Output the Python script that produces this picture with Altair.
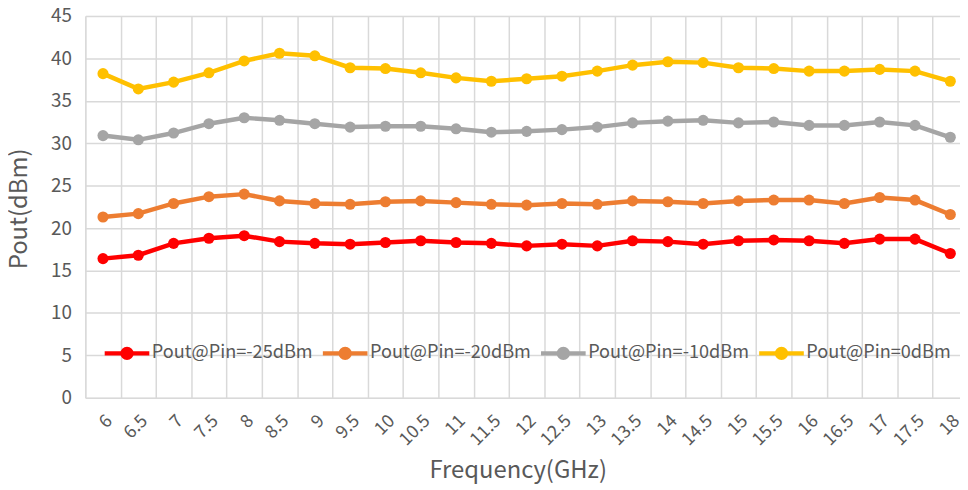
import altair as alt
import pandas as pd

freqs = ["6", "6.5", "7", "7.5", "8", "8.5", "9", "9.5", "10", "10.5", "11", "11.5",
         "12", "12.5", "13", "13.5", "14", "14.5", "15", "15.5", "16", "16.5", "17", "17.5", "18"]
series_names = ["Pout@Pin=-25dBm", "Pout@Pin=-20dBm", "Pout@Pin=-10dBm", "Pout@Pin=0dBm"]
series_colors = ["#FF0000", "#ED7D31", "#A5A5A5", "#FFC000"]
pin_m25 = [16.4, 16.8, 18.2, 18.8, 19.1, 18.4, 18.2, 18.1, 18.3, 18.5, 18.3, 18.2, 17.9,
           18.1, 17.9, 18.5, 18.4, 18.1, 18.5, 18.6, 18.5, 18.2, 18.7, 18.7, 17.0]
pin_m20 = [21.3, 21.7, 22.9, 23.7, 24.0, 23.2, 22.9, 22.8, 23.1, 23.2, 23.0, 22.8, 22.7,
           22.9, 22.8, 23.2, 23.1, 22.9, 23.2, 23.3, 23.3, 22.9, 23.6, 23.3, 21.6]
pin_m10 = [30.9, 30.4, 31.2, 32.3, 33.0, 32.7, 32.3, 31.9, 32.0, 32.0, 31.7, 31.3, 31.4,
           31.6, 31.9, 32.4, 32.6, 32.7, 32.4, 32.5, 32.1, 32.1, 32.5, 32.1, 30.7]
pin_0 = [38.2, 36.4, 37.2, 38.3, 39.7, 40.6, 40.3, 38.9, 38.8, 38.3, 37.7, 37.3, 37.6,
         37.9, 38.5, 39.2, 39.6, 39.5, 38.9, 38.8, 38.5, 38.5, 38.7, 38.5, 37.3]
y_ticks = [0, 5, 10, 15, 20, 25, 30, 35, 40, 45]

rows = []
for name, vals in zip(series_names, [pin_m25, pin_m20, pin_m10, pin_0]):
    for f, v in zip(freqs, vals):
        rows.append({"freq": f, "pout": v, "series": name})
df = pd.DataFrame(rows)

FONT = "Noto Sans CJK SC"
TXT = "#595959"
GRID = "#D9D9D9"

legend_path = ("M-1,0L1,0 M-0.2,0A0.2,0.2,0,1,1,0.2,0A0.2,0.2,0,1,1,-0.2,0 "
               "M-0.1,0A0.1,0.1,0,1,1,0.1,0A0.1,0.1,0,1,1,-0.1,0")

chart = alt.Chart(df).mark_line(
    strokeWidth=4.5,
    point=alt.OverlayMarkDef(filled=True, size=125),
).encode(
    x=alt.X("freq:O", sort=freqs,
            scale=alt.Scale(type="band", paddingInner=0, paddingOuter=0),
            axis=alt.Axis(title="Frequency(GHz)", labelAngle=-45, tickBand="extent",
                          grid=True, gridColor=GRID, gridWidth=1.5, ticks=False,
                          domain=False, labelFontSize=18, labelColor=TXT, labelFont=FONT,
                          labelPadding=14, titleFont=FONT, titleFontSize=24,
                          titleFontWeight="normal", titleColor=TXT,
                          titleX=436, titleY=73, titleBaseline="middle", titleAlign="center")),
    y=alt.Y("pout:Q", scale=alt.Scale(domain=[0, 45], nice=False),
            axis=alt.Axis(title="Pout(dBm)", values=y_ticks, grid=True, gridColor=GRID,
                          gridWidth=1.5, ticks=False, domain=False, labelFontSize=19,
                          labelColor=TXT, labelFont=FONT, labelPadding=14,
                          titleFont=FONT, titleFontSize=24, titleFontWeight="normal",
                          titleColor=TXT, titleX=-66, titleY=194, titleAngle=-90,
                          titleAlign="center", titleBaseline="middle")),
    color=alt.Color("series:N", sort=series_names,
                    scale=alt.Scale(domain=series_names, range=series_colors),
                    legend=alt.Legend(title=None, orient="none", direction="horizontal",
                                      legendX=17, legendY=315, symbolType=legend_path,
                                      symbolSize=2025, symbolStrokeWidth=4.5,
                                      labelFont=FONT, labelFontSize=18.3, labelColor=TXT,
                                      labelLimit=0, labelOffset=0, columnPadding=0,
                                      padding=0)),
).properties(
    width=890, height=385,
    padding={"left": 78, "top": 6, "right": -8, "bottom": 90},
    autosize=alt.AutoSizeParams(type="none"),
).configure_view(stroke=None).configure(background="white")

chart.save("out.html", embed_options={"renderer": "svg", "actions": False})
